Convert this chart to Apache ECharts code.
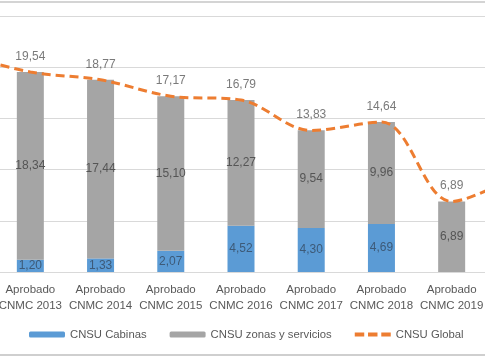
<!DOCTYPE html>
<html><head><meta charset="utf-8">
<script src="https://cdn.jsdelivr.net/npm/echarts@6/dist/echarts.min.js"></script>
<style>html,body{margin:0;padding:0;background:#fff;overflow:hidden;width:485px;height:357px;position:relative}
#c{position:absolute;left:-75px;top:0;width:632px;height:357px}</style>
</head><body><div id="c"></div>
<script>
// Categories (first and last are cut off by the frame of the original picture)
const categories = ['Aprobado\nCNMC 2012','Aprobado\nCNMC 2013','Aprobado\nCNMC 2014','Aprobado\nCNMC 2015','Aprobado\nCNMC 2016','Aprobado\nCNMC 2017','Aprobado\nCNMC 2018','Aprobado\nCNMC 2019','Aprobado\nCNMC 2020'];
const cabinas = [null, 1.20, 1.33, 2.07, 4.52, 4.30, 4.69, null, null];
const zonas   = [null, 18.34, 17.44, 15.10, 12.27, 9.54, 9.96, 6.89, null];
const globalV = [21.3, 19.54, 18.77, 17.17, 16.79, 13.83, 14.64, 6.89, 9.8];
const seriesNames = ['CNSU Cabinas', 'CNSU zonas y servicios', 'CNSU Global'];

const fmt = p => {
  const v = Array.isArray(p.value) ? p.value[1] : p.value;
  return v == null ? '' : Number(v).toFixed(2).replace('.', ',');
};
const FONT = 'Liberation Sans';
const OFF = 75; // horizontal offset of the chart canvas inside the window

const chart = echarts.init(document.getElementById('c'), null, {renderer: 'canvas'});
chart.setOption({
  animation: false,
  textStyle: {fontFamily: FONT},
  grid: {left: 0, right: 0, top: 16, bottom: 85, containLabel: false},
  legend: {
    top: 329, left: 29 + OFF, padding: 0,
    itemWidth: 36, itemHeight: 6, itemGap: 23,
    textStyle: {fontFamily: FONT, fontSize: 11.3, color: '#595959'},
    data: [
      seriesNames[0],
      seriesNames[1],
      {name: seriesNames[2], icon: 'path://M0,0h10v4h-10zM14,0h10v4h-10zM28,0h10v4h-10z', itemStyle: {color: '#ED7D31'}}
    ]
  },
  xAxis: {
    type: 'category', data: categories, boundaryGap: true,
    axisLine: {lineStyle: {color: '#d9d9d9', width: 1}},
    axisTick: {show: false},
    axisLabel: {margin: 10, fontFamily: FONT, fontSize: 11.5, lineHeight: 16, color: '#595959', interval: 0}
  },
  yAxis: {
    type: 'value', min: 0, max: 25, interval: 5,
    axisLabel: {show: false}, axisLine: {show: false}, axisTick: {show: false},
    splitLine: {lineStyle: {color: '#d9d9d9', width: 1}}
  },
  series: [
    {
      name: seriesNames[0], type: 'bar', stack: 's', data: cabinas, barWidth: 27,
      itemStyle: {color: '#5B9BD5'},
      label: {show: true, position: 'inside', formatter: fmt, fontFamily: FONT, fontSize: 12, color: '#3d5a78'}
    },
    {
      name: seriesNames[1], type: 'bar', stack: 's', data: zonas, barWidth: 27,
      itemStyle: {color: '#A5A5A5'},
      label: {show: true, position: 'inside', formatter: fmt, fontFamily: FONT, fontSize: 12, color: '#555555'}
    },
    {
      name: seriesNames[2], type: 'line', data: globalV, smooth: 0.35,
      symbol: 'none',
      lineStyle: {color: '#ED7D31', width: 3, type: [9, 5]},
      itemStyle: {color: '#ED7D31'},
      z: 5
    },
    {
      name: 'labels', type: 'scatter', data: globalV, symbolSize: 1,
      itemStyle: {color: 'rgba(0,0,0,0)'},
      label: {show: true, position: 'top', distance: 9, formatter: fmt, fontFamily: FONT, fontSize: 12, color: '#595959'},
      z: 6, silent: true
    }
  ],
  graphic: [
    {type: 'line', shape: {x1: 0, y1: 2, x2: 632, y2: 2}, style: {stroke: '#d4d4d4', lineWidth: 2}},
    {type: 'line', shape: {x1: 0, y1: 355, x2: 632, y2: 355}, style: {stroke: '#cfcfcf', lineWidth: 2}}
  ]
});
</script></body></html>
